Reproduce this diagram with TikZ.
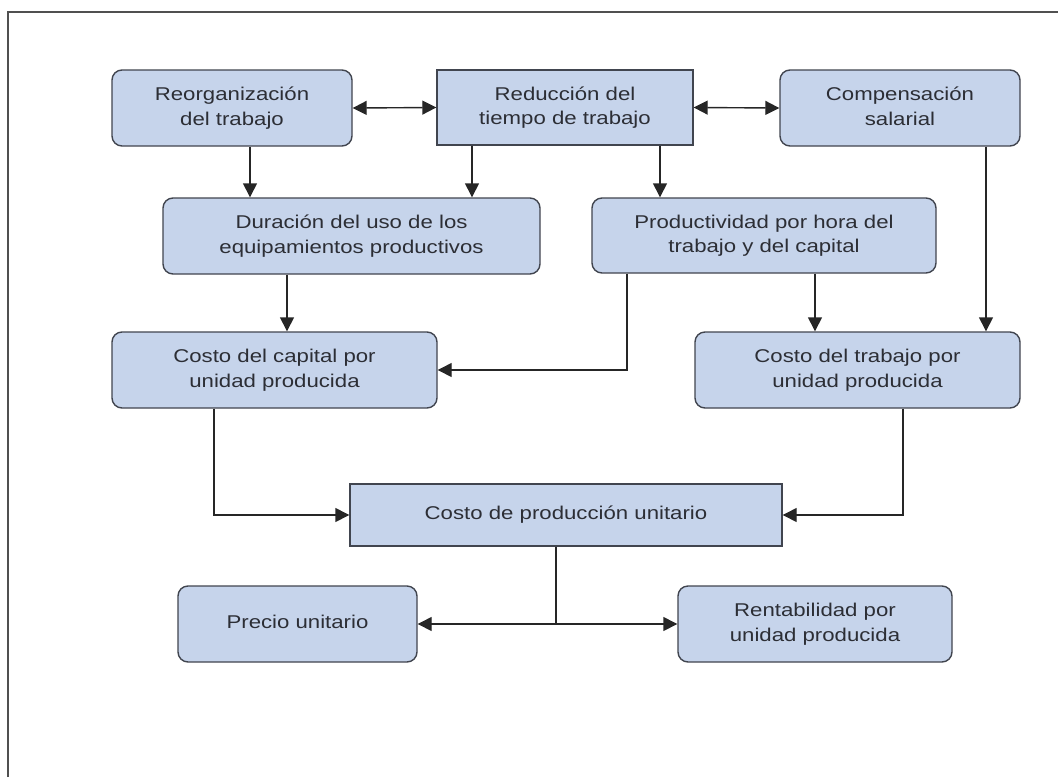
\documentclass[tikz,border=0pt]{standalone}
\usepackage{fontspec}
\setmainfont{Liberation Sans}
\usetikzlibrary{arrows.meta}
\definecolor{boxfill}{HTML}{C6D4EB}
\definecolor{boxline}{HTML}{41454F}
\definecolor{txt}{HTML}{2C2E35}
\definecolor{frameline}{HTML}{505050}
\newcommand{\lbl}[1]{\scalebox{1.2}[1]{\begin{tabular}{@{}c@{}}#1\end{tabular}}}
\tikzset{
  basebox/.style={draw=boxline, fill=boxfill, line width=1.4pt, inner sep=0pt,
    text=txt, font=\fontsize{18.5}{24.5}\selectfont, anchor=center},
  rbox/.style={basebox, rounded corners=10pt},
  sbox/.style={basebox},
  conn/.style={draw=black!85, line width=1.4pt},
  arr/.style={conn, -{Triangle[length=14pt,width=14pt]}},
  darr/.style={conn, {Triangle[length=14pt,width=14pt]}-{Triangle[length=14pt,width=14pt]}},
}
\begin{document}
\begin{tikzpicture}[x=1pt,y=-1pt]
\useasboundingbox (0,0) rectangle (1058,777);
\draw[frameline, line width=2pt] (8,777) -- (8,12) -- (1058,12);

\node[rbox, minimum width=240pt, minimum height=76pt] (reorg) at (232,108) {\lbl{Reorganización\\del trabajo}};
\node[sbox, minimum width=256pt, minimum height=75pt] (reduc) at (565,107.5) {\lbl{Reducción del\\tiempo de trabajo}};
\node[rbox, minimum width=240pt, minimum height=76pt] (comp) at (900,108) {\lbl{Compensación\\salarial}};
\node[rbox, minimum width=377pt, minimum height=76pt] (dur) at (351.5,236) {\lbl{Duración del uso de los\\equipamientos productivos}};
\node[rbox, minimum width=344pt, minimum height=75pt] (prod) at (764,235.5) {\lbl{Productividad por hora del\\trabajo y del capital}};
\node[rbox, minimum width=325pt, minimum height=76pt] (cap) at (274.5,370) {\lbl{Costo del capital por\\unidad producida}};
\node[rbox, minimum width=325pt, minimum height=76pt] (trab) at (857.5,370) {\lbl{Costo del trabajo por\\unidad producida}};
\node[sbox, minimum width=432pt, minimum height=62pt] (cpu) at (566,515) {\lbl{Costo de producción unitario}};
\node[rbox, minimum width=239pt, minimum height=76pt] (precio) at (297.5,624) {\raisebox{9pt}{\lbl{Precio unitario}}};
\node[rbox, minimum width=274pt, minimum height=76pt] (rent) at (815,624) {\lbl{Rentabilidad por\\unidad producida}};

\draw[darr] (reorg.east) -- (reduc.west);
\draw[darr] (reduc.east) -- (comp.west);
\draw[arr] ([xshift=18pt]reorg.south) -- ([xshift=18pt]reorg.south |- dur.north);
\draw[arr] ([xshift=-93pt]reduc.south) -- ([xshift=-93pt]reduc.south |- dur.north);
\draw[arr] ([xshift=95pt]reduc.south) -- ([xshift=95pt]reduc.south |- prod.north);
\draw[arr] ([xshift=-64.5pt]dur.south) -- ([xshift=-64.5pt]dur.south |- cap.north);
\draw[arr] ([xshift=-137pt]prod.south) |- (cap.east);
\draw[arr] ([xshift=51pt]prod.south) -- ([xshift=51pt]prod.south |- trab.north);
\draw[arr] ([xshift=86pt]comp.south) -- ([xshift=86pt]comp.south |- trab.north);
\draw[arr] ([xshift=-60.5pt]cap.south) |- (cpu.west);
\draw[arr] ([xshift=45.5pt]trab.south) |- (cpu.east);
\coordinate (j) at ([xshift=-10pt]cpu.south |- precio.east);
\draw[conn] ([xshift=-10pt]cpu.south) -- (j);
\draw[arr] (j) -- (precio.east);
\draw[arr] (j) -- (rent.west);
\end{tikzpicture}
\end{document}
